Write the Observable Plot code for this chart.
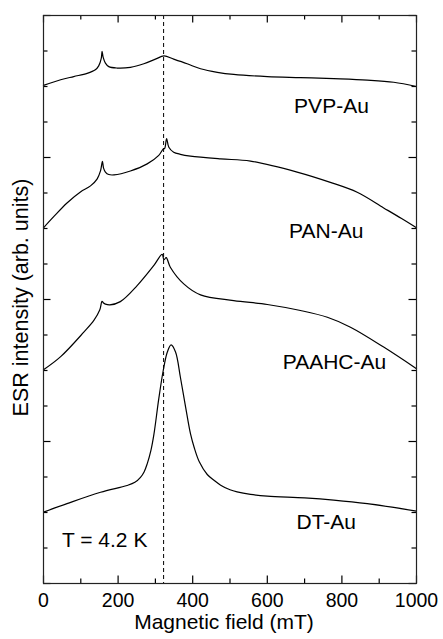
<!DOCTYPE html>
<html><head><meta charset="utf-8">
<script src="https://cdn.jsdelivr.net/npm/d3@7"></script>
<script src="https://cdn.jsdelivr.net/npm/@observablehq/plot@0.6"></script>
<style>body{margin:0;background:#fff}</style>
</head><body><div id="chart"></div>
<script>
// Magnetic field (mT) and ESR intensity (arb. units, offset curves)
const pvpField = [0, 46, 81, 117, 139, 148, 155, 157, 160, 166, 175, 197, 233, 269, 300, 323, 349, 385, 421, 466, 510, 600, 689, 778, 868, 939, 1000];
const pvpIntensity = [14.03, 14.19, 14.28, 14.37, 14.47, 14.58, 14.8, 14.99, 14.82, 14.66, 14.56, 14.52, 14.54, 14.64, 14.77, 14.86, 14.77, 14.64, 14.50, 14.40, 14.34, 14.28, 14.25, 14.22, 14.18, 14.12, 14.0];

const panField = [0, 28, 63, 99, 126, 144, 153, 158, 161, 166, 175, 189, 233, 278, 309, 321, 325, 330, 336, 349, 367, 394, 475, 555, 680, 769, 841, 912, 960, 1000];
const panIntensity = [10.02, 10.34, 10.72, 11.03, 11.2, 11.40, 11.63, 11.89, 11.70, 11.59, 11.52, 11.51, 11.62, 11.82, 12.06, 12.24, 12.26, 12.53, 12.29, 12.15, 12.09, 12.04, 11.96, 11.90, 11.59, 11.30, 11.02, 10.58, 10.28, 10.02];

const paahcField = [0, 46, 108, 135, 151, 157, 161, 166, 178, 206, 251, 296, 318, 323, 329, 340, 376, 421, 510, 600, 689, 761, 823, 912, 1000];
const paahcIntensity = [6.02, 6.39, 7.08, 7.41, 7.71, 7.95, 7.90, 7.87, 7.85, 7.94, 8.39, 8.96, 9.27, 9.12, 9.18, 8.91, 8.44, 8.13, 7.97, 7.86, 7.69, 7.50, 7.22, 6.66, 6.05];

const dtField = [0, 63, 153, 224, 245, 260, 270, 278, 288, 296, 309, 321, 332, 342, 354, 367, 381, 394, 404, 418, 439, 458, 475, 500, 519, 555, 600, 700, 778, 868, 1000];
const dtIntensity = [2.01, 2.25, 2.57, 2.76, 2.85, 2.99, 3.15, 3.37, 3.75, 4.2, 5.2, 6.0, 6.52, 6.72, 6.52, 5.81, 4.97, 4.22, 3.83, 3.42, 3.07, 2.9, 2.77, 2.64, 2.58, 2.51, 2.46, 2.41, 2.35, 2.25, 2.04];

const seriesNames = ["PVP-Au", "PAN-Au", "PAAHC-Au", "DT-Au"];
const seriesFields = [pvpField, panField, paahcField, dtField];
const seriesIntensities = [pvpIntensity, panIntensity, paahcIntensity, dtIntensity];

const labelTexts = ["PVP-Au", "PAN-Au", "PAAHC-Au", "DT-Au", "T = 4.2 K"];
const labelFields = [772, 758, 780, 758, 164];
const labelIntensities = [13.43, 9.93, 6.22, 1.73, 1.21];

const referenceField = 322;

const xDomain = [0, 1000];
const yDomain = [0, 16];
const xMajorTicks = [0, 200, 400, 600, 800, 1000];
const xMinorTicks = [100, 300, 500, 700, 900];
const yMajorTicks = [0, 4, 8, 12, 16];
const yMinorTicks = [1, 2, 3, 5, 6, 7, 9, 10, 11, 13, 14, 15];

const lineData = seriesNames.flatMap((name, s) =>
  seriesFields[s].map((f, i) => ({name, field: f, intensity: seriesIntensities[s][i]})));
const labelData = labelTexts.map((t, i) => ({text: t, field: labelFields[i], intensity: labelIntensities[i]}));

const font = "Liberation Sans, Arial, Helvetica, sans-serif";
const W = 443, H = 639, mL = 43, mR = 27, mT = 15, mB = 56;
const frameW = W - mL - mR, frameH = H - mT - mB;
const majorLen = 7.5, minorLen = 4.5;
// convert a pixel tick length into data units along each scale
const xLen = px => px / frameW * (xDomain[1] - xDomain[0]);
const yLen = px => px / frameH * (yDomain[1] - yDomain[0]);

function xTicks(ticks, len) {
  return [
    Plot.ruleX(ticks, {x: d => d, y1: yDomain[0], y2: yDomain[0] + yLen(len), stroke: "#000", strokeWidth: 1.2}),
    Plot.ruleX(ticks, {x: d => d, y1: yDomain[1] - yLen(len), y2: yDomain[1], stroke: "#000", strokeWidth: 1.2})
  ];
}
function yTicks(ticks, len) {
  return [
    Plot.ruleY(ticks, {y: d => d, x1: xDomain[0], x2: xDomain[0] + xLen(len), stroke: "#000", strokeWidth: 1.2}),
    Plot.ruleY(ticks, {y: d => d, x1: xDomain[1] - xLen(len), x2: xDomain[1], stroke: "#000", strokeWidth: 1.2})
  ];
}

const chart = Plot.plot({
  width: W,
  height: H,
  marginLeft: mL,
  marginRight: mR,
  marginTop: mT,
  marginBottom: mB,
  style: {fontFamily: font, background: "#fff", color: "#000"},
  x: {domain: xDomain, axis: null},
  y: {domain: yDomain, axis: null},
  marks: [
    Plot.ruleX([referenceField], {stroke: "#000", strokeWidth: 1, strokeDasharray: "4,3"}),
    Plot.line(lineData, {x: "field", y: "intensity", z: "name", curve: "catmull-rom", stroke: "#000", strokeWidth: 1.2}),
    ...xTicks(xMajorTicks, majorLen),
    ...xTicks(xMinorTicks, minorLen),
    ...yTicks(yMajorTicks, majorLen),
    ...yTicks(yMinorTicks, minorLen),
    Plot.axisX(xMajorTicks, {anchor: "bottom", tickSize: 0, tickPadding: 10, fontSize: 19.5, tickFormat: d => String(d), label: null}),
    Plot.frame({stroke: "#222", strokeWidth: 1.2}),
    Plot.text(labelData, {x: "field", y: "intensity", text: "text", fontSize: 21, fill: "#000", textAnchor: "middle"}),
    Plot.text(["Magnetic field (mT)"], {frameAnchor: "bottom", textAnchor: "middle", dy: 45, dx: -6, fontSize: 21, fill: "#000"}),
    Plot.text(["ESR intensity (arb. units)"], {frameAnchor: "left", textAnchor: "middle", rotate: -90, dx: -22, dy: -2, fontSize: 21.5, fill: "#000"})
  ]
});
document.getElementById("chart").appendChild(chart);
</script>
</body></html>
